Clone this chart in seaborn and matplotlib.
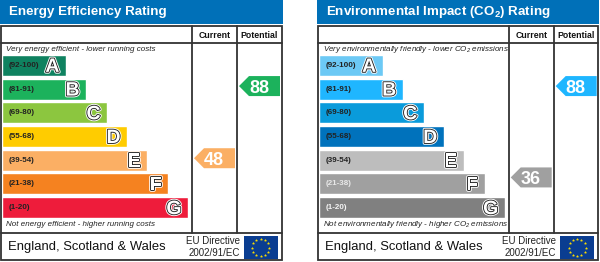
import numpy as np
import pandas as pd
import matplotlib
matplotlib.use("Agg")
import matplotlib.pyplot as plt
import matplotlib.patheffects as pe
from matplotlib.patches import Rectangle, Polygon
import seaborn as sns

bands = ["(92-100)", "(81-91)", "(69-80)", "(55-68)", "(39-54)", "(21-38)", "(1-20)"]
letters = ["A", "B", "C", "D", "E", "F", "G"]
bar_lengths = [64, 84, 105, 125, 145, 166, 186]

energy_colors = ["#0f8260", "#1cb25c", "#8cc63f", "#ffcc00", "#fbaf64", "#f58220", "#ee1c3b"]
env_colors = ["#6cc9f5", "#1fb6ff", "#0a9bdb", "#0072bc", "#bdbdbd", "#a0a0a0", "#808080"]
energy_band_text = ["#222222"] * 7
env_band_text = ["#222222"] * 5 + ["#e8e8e8", "#f4f4f4"]

# score, band row, nudge from the row centre, arrow colour
energy_scores = {"Current": (48, "E", -2, "#fbaf64"), "Potential": (88, "B", -3, "#1cb25c")}
env_scores = {"Current": (36, "F", -6.5, "#a0a0a0"), "Potential": (88, "B", -3, "#1fb6ff")}

W, H = 600, 262
sns.set_theme(style="white")
plt.rcParams["font.family"] = ["Liberation Sans", "DejaVu Sans"]
plt.rcParams["mathtext.default"] = "regular"

fig = plt.figure(figsize=(W / 100, H / 100), dpi=100, facecolor="white")
page = fig.add_axes([0, 0, 1, 1])
page.set_xlim(0, W)
page.set_ylim(H, 0)
page.axis("off")


def draw_panel(x0, title, top_note, bottom_note, colors, band_text, scores):
    frame = "#333333"
    page.add_patch(Rectangle((x0, 0), 282.5, 23.5, fc="#0070b8", ec="none"))
    page.text(x0 + 9, 12, title, color="white", fontsize=9.6, fontweight="bold", va="center")

    # table lines
    page.add_patch(Rectangle((x0 + 1, 26), 280.5, 234, fc="white", ec=frame, lw=1.3))
    page.plot([x0 + 1, x0 + 281.5], [43, 43], color=frame, lw=1.3)
    page.plot([x0 + 1, x0 + 281.5], [233, 233], color=frame, lw=1.3)
    page.plot([x0 + 192, x0 + 192], [26, 233], color=frame, lw=1.3)
    page.plot([x0 + 237, x0 + 237], [26, 233], color=frame, lw=1.3)
    page.text(x0 + 214.8, 35, "Current", fontsize=6.3, fontweight="bold", ha="center", va="center", color="#111111")
    page.text(x0 + 259.5, 35, "Potential", fontsize=6.3, fontweight="bold", ha="center", va="center", color="#111111")
    page.text(x0 + 6, 49.5, top_note, fontsize=5.8, style="italic", va="center", color="#222222")
    page.text(x0 + 6, 225, bottom_note, fontsize=5.8, style="italic", va="center", color="#222222")

    page.text(x0 + 8.5, 247, "England, Scotland & Wales", fontsize=9.4, va="center", color="#111111")
    page.text(x0 + 239.5, 241, "EU Directive", fontsize=7, ha="right", va="center", color="#222222")
    page.text(x0 + 239.5, 253, "2002/91/EC", fontsize=7, ha="right", va="center", color="#222222")

    # eu flag
    page.add_patch(Rectangle((x0 + 243.5, 236), 34, 23, fc="#0a3d91", ec="none"))
    ang = np.radians(np.arange(0, 360, 30))
    page.scatter(x0 + 260.5 + 8.5 * np.cos(ang), 247.5 + 8.5 * np.sin(ang), s=2.5, color="#ffe000", marker="*", lw=0.3)

    # bars, axes spans one pixel per length unit
    ax = fig.add_axes([(x0 + 2) / W, 1 - 219.5 / H, 186 / W, 166 / H])
    df = pd.DataFrame({"band": bands, "length": bar_lengths})
    sns.barplot(data=df, x="length", y="band", hue="band", palette=colors, legend=False,
                width=0.885, saturation=1, ax=ax)
    ax.set_xlim(0, 186)
    ax.axis("off")
    ax.patch.set_alpha(0)
    for i, (band, length, letter) in enumerate(zip(bands, bar_lengths, letters)):
        ax.text(6.5, i, band, fontsize=5.8, fontweight="bold", va="center", color=band_text[i])
        ax.text(length - 6.5, i, letter, fontsize=14, fontweight="bold", ha="right", va="center_baseline", color="white",
                path_effects=[pe.withStroke(linewidth=2.6, foreground="white"),
                              pe.withStroke(linewidth=1.3, foreground="#222222")])

    # score arrows sit near the rows of their band
    for col, col_left in (("Current", 194), ("Potential", 239)):
        score, letter, nudge, color = scores[col]
        row = letters.index(letter)
        y_mid = page.transData.inverted().transform(ax.transData.transform((0, row)))[1] + nudge
        left = x0 + col_left
        page.add_patch(Polygon([(left, y_mid), (left + 10, y_mid - 10), (left + 41, y_mid - 10),
                                (left + 41, y_mid + 10), (left + 10, y_mid + 10)], fc=color, ec="none"))
        page.text(left + 20, y_mid, str(score), fontsize=13, fontweight="bold", color="white", ha="center", va="center_baseline")


draw_panel(0, "Energy Efficiency Rating",
           "Very energy efficient - lower running costs",
           "Not energy efficient - higher running costs",
           energy_colors, energy_band_text, energy_scores)
draw_panel(316.7, "Environmental Impact (CO$_2$) Rating",
           "Very environmentally friendly - lower CO$_2$ emissions",
           "Not environmentally friendly - higher CO$_2$ emissions",
           env_colors, env_band_text, env_scores)

fig.savefig("out.png", dpi=100)
